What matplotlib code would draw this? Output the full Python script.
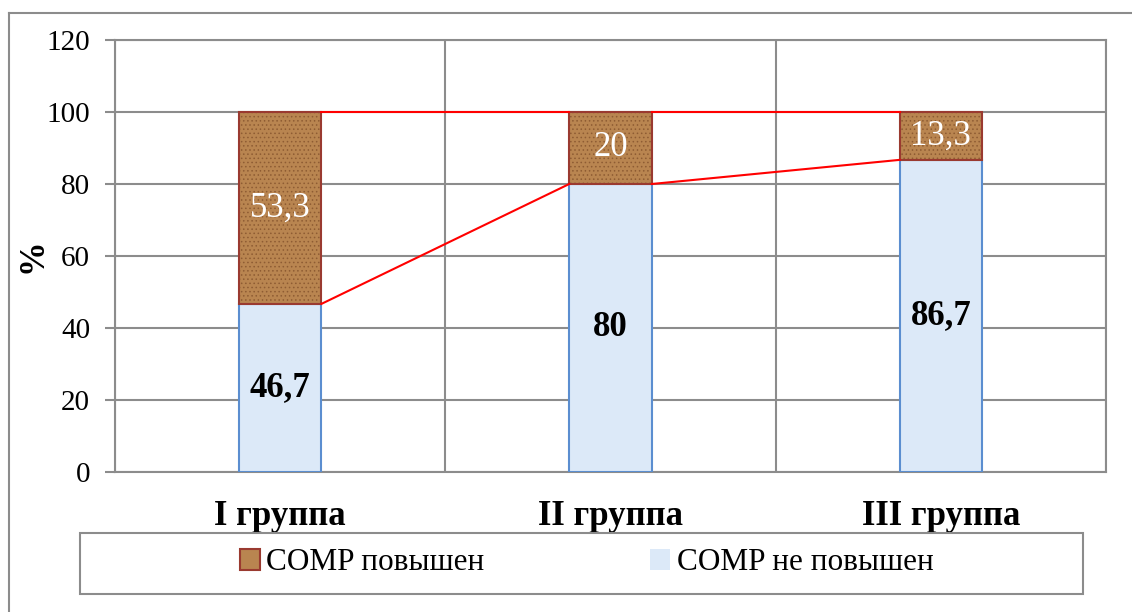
import matplotlib.pyplot as plt
from matplotlib.patches import Patch, Rectangle
from matplotlib.lines import Line2D

groups = ["I группа", "II группа", "III группа"]
not_raised = [46.7, 80, 86.7]
raised = [53.3, 20, 13.3]
not_raised_labels = ["46,7", "80", "86,7"]
raised_labels = ["53,3", "20", "13,3"]
series_names = ["COMP повышен", "COMP не повышен"]

plt.rcParams['font.family'] = ['Liberation Serif', 'DejaVu Serif']
plt.rcParams['hatch.linewidth'] = 0.6

fig = plt.figure(figsize=(11.32, 6.12), dpi=100)
ax = fig.add_axes([115 / 1132, 1 - 472 / 612, 991 / 1132, 432 / 612])

x = list(range(len(groups)))
w = 0.25
brown = "#B98550"
brown_dots = "#8E5C33"
brown_edge = "#9A3A30"
blue = "#DCE9F8"
blue_edge = "#5B8ED0"
grid_c = "#8C8C8C"

ax.bar(x, not_raised, w, color=blue, edgecolor=blue_edge, linewidth=1.5, zorder=3)
ax.bar(x, raised, w, bottom=not_raised, color=brown, edgecolor="none", zorder=3)
# cork-like speckle
ax.bar(x, raised, w, bottom=not_raised, fill=False, hatch="....",
       edgecolor=brown_dots, linewidth=0, zorder=3)
ax.bar(x, raised, w, bottom=not_raised, fill=False, edgecolor=brown_edge,
       linewidth=1.5, zorder=3)

# series lines between bars
for i in range(len(x) - 1):
    ax.plot([x[i] + w / 2, x[i + 1] - w / 2], [not_raised[i], not_raised[i + 1]],
            color="red", lw=1.5, zorder=4)
    top_i = not_raised[i] + raised[i]
    top_n = not_raised[i + 1] + raised[i + 1]
    ax.plot([x[i] + w / 2, x[i + 1] - w / 2], [top_i, top_n],
            color="red", lw=1.5, zorder=4)

for i in x:
    ax.text(i, not_raised[i] / 2, not_raised_labels[i], ha="center", va="center",
            fontsize=25, fontweight="bold", color="black", zorder=5)
    ax.text(i, not_raised[i] + raised[i] / 2, raised_labels[i], ha="center",
            va="center", fontsize=25, color="white", zorder=5)

ax.set_xlim(-0.5, 2.5)
ax.set_ylim(0, 120)
ax.set_yticks(range(0, 121, 20))
ax.set_xticks(x)
ax.set_xticklabels(groups, fontsize=25, fontweight="bold")
ax.set_xticks([-0.5, 0.5, 1.5, 2.5], minor=True)
ax.tick_params(axis="x", which="both", length=0, pad=20)
ax.tick_params(axis="y", length=7, color=grid_c, width=1.5, labelsize=21, pad=11)
ax.grid(axis="y", color=grid_c, lw=1.5, zorder=0)
ax.grid(axis="x", which="minor", color=grid_c, lw=1.5, zorder=0)
for s in ax.spines.values():
    s.set_color(grid_c)
    s.set_linewidth(1.5)
ax.set_ylabel("%", fontsize=25, fontweight="bold", labelpad=-2)

# outer chart border
fig.add_artist(Line2D([9 / 1132, 9 / 1132], [0, 1 - 13 / 612], color=grid_c, lw=1.5))
fig.add_artist(Line2D([9 / 1132, 1], [1 - 13 / 612, 1 - 13 / 612], color=grid_c, lw=1.5))

# legend box
fig.add_artist(Rectangle((80 / 1132, 1 - 594 / 612), 1003 / 1132, 61 / 612,
                         transform=fig.transFigure, fill=False, edgecolor=grid_c, lw=1.5))
handles = [Patch(facecolor=brown, edgecolor=brown_edge, lw=1.5),
           Patch(facecolor=blue, edgecolor="none")]
fig.legend(handles, series_names, loc="center", bbox_to_anchor=(0.518, 1 - 563 / 612),
           ncol=2, frameon=False, fontsize=22.5, handlelength=0.65, handleheight=0.65,
           handletextpad=0.2, columnspacing=5.3)

fig.savefig("out.png", dpi=100)
